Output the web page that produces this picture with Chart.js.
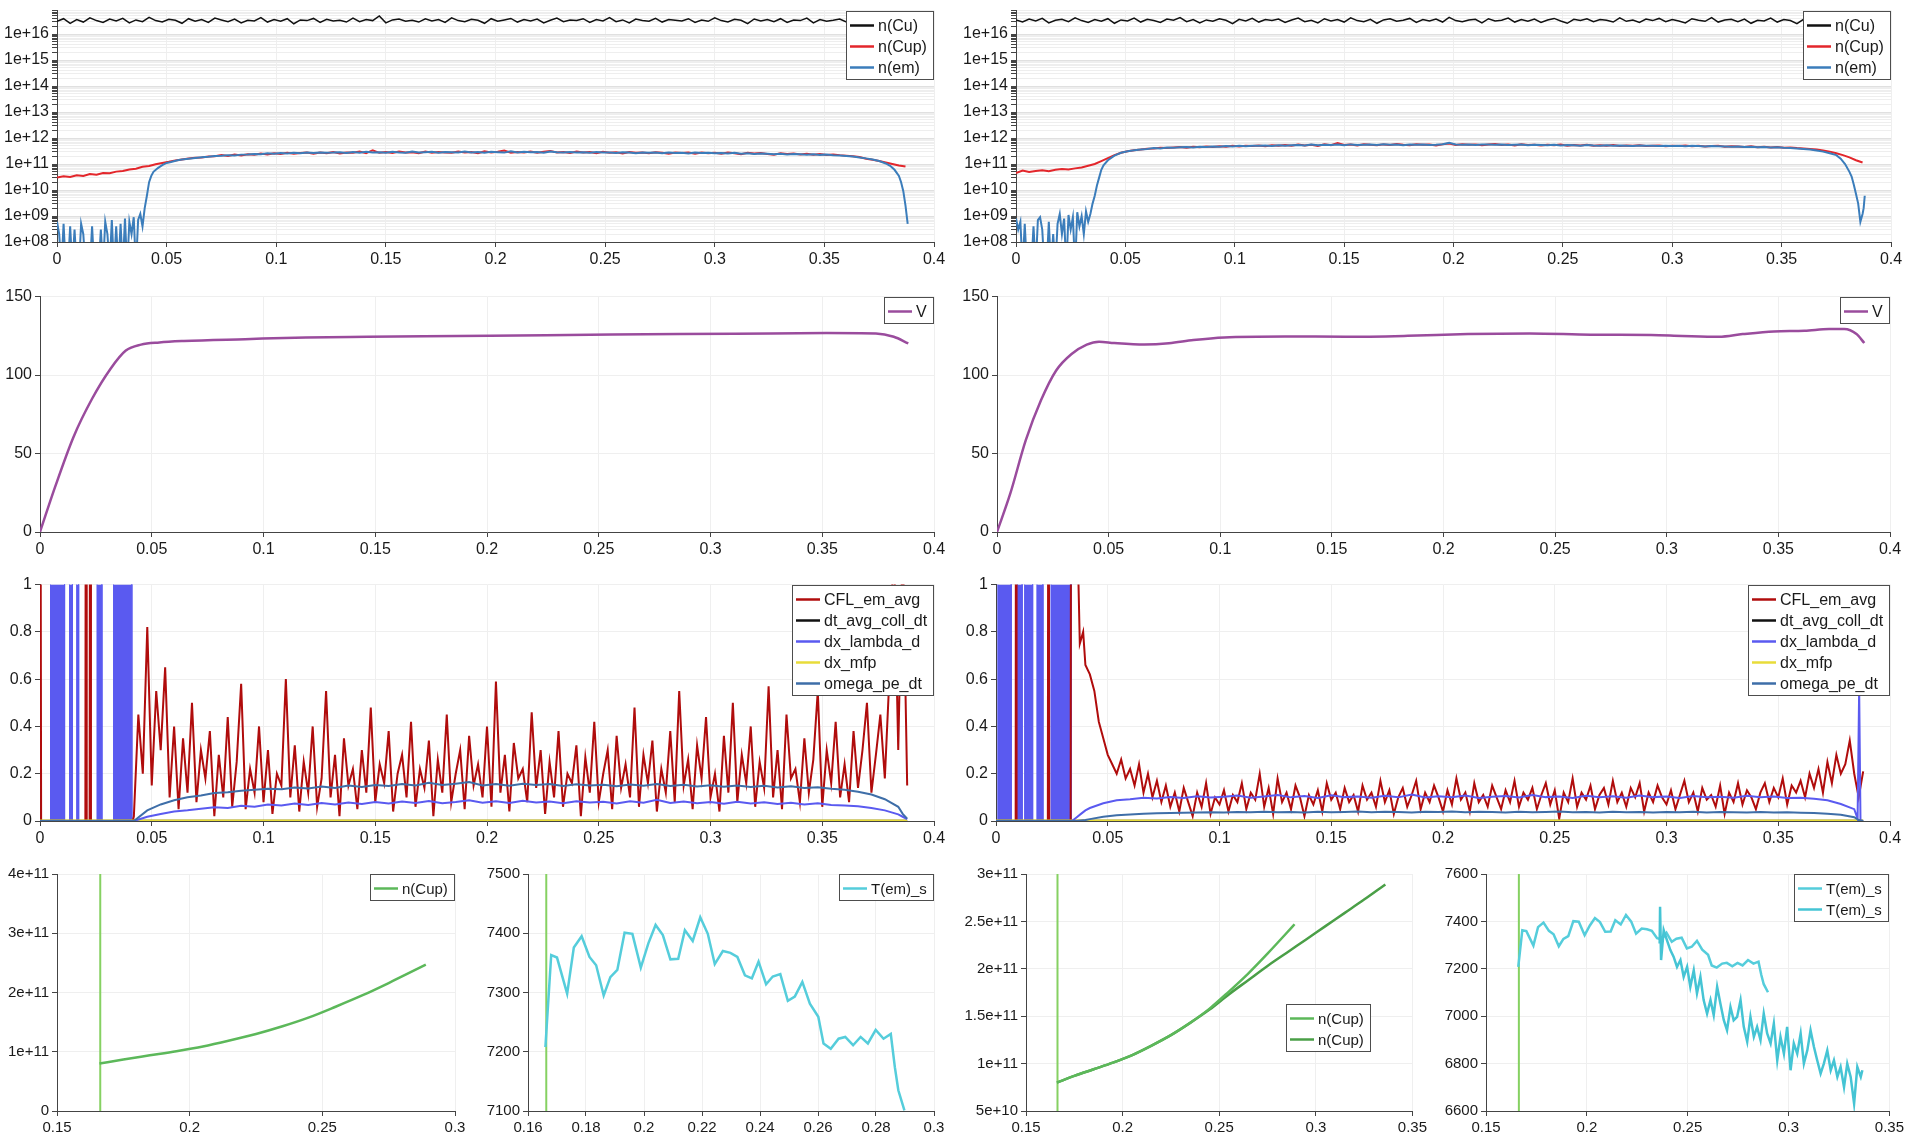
<!DOCTYPE html>
<html><head><meta charset="utf-8">
<script src="https://cdn.jsdelivr.net/npm/chart.js@4.4.1/dist/chart.umd.min.js"></script>
<style>
html,body{margin:0;padding:0;background:#fff;width:1907px;height:1136px;overflow:hidden;position:relative}
canvas{position:absolute}
</style></head><body>
<canvas id="cA"></canvas><canvas id="cB"></canvas>
<canvas id="cC"></canvas><canvas id="cD"></canvas>
<canvas id="cE"></canvas><canvas id="cF"></canvas>
<canvas id="cG"></canvas><canvas id="cH"></canvas><canvas id="cI"></canvas><canvas id="cJ"></canvas>
<script>
// ---------------- DATA ----------------
// shared position grid (row 1)
const xs = [
0,0.003,0.006,0.009,0.012,0.015,0.018,0.021,0.024,0.027,
0.03,0.033,0.036,0.039,0.042,0.045,0.048,0.051,0.054,0.057,
0.06,0.063,0.066,0.069,0.072,0.075,0.078,0.081,0.084,0.087,
0.09,0.093,0.096,0.099,0.102,0.105,0.108,0.111,0.114,0.117,
0.12,0.123,0.126,0.129,0.132,0.135,0.138,0.141,0.144,0.147,
0.15,0.153,0.156,0.159,0.162,0.165,0.168,0.171,0.174,0.177,
0.18,0.183,0.186,0.189,0.192,0.195,0.198,0.201,0.204,0.207,
0.21,0.213,0.216,0.219,0.222,0.225,0.228,0.231,0.234,0.237,
0.24,0.243,0.246,0.249,0.252,0.255,0.258,0.261,0.264,0.267,
0.27,0.273,0.276,0.279,0.282,0.285,0.288,0.291,0.294,0.297,
0.3,0.303,0.306,0.309,0.312,0.315,0.318,0.321,0.324,0.327,
0.33,0.333,0.336,0.339,0.342,0.345,0.348,0.351,0.354,0.357,
0.36,0.363,0.366,0.369,0.372,0.375,0.378,0.381,0.384,0.387];

const nCuLeft = [
3.1e16,3.9e16,2.6e16,3.6e16,2.9e16,4.2e16,3.3e16,2.8e16,3.8e16,3.2e16,
4.0e16,2.7e16,3.5e16,3.0e16,4.4e16,3.3e16,2.9e16,3.7e16,3.4e16,2.6e16,
3.9e16,3.1e16,3.6e16,2.8e16,4.1e16,3.5e16,3.0e16,3.8e16,2.7e16,3.4e16,
3.2e16,4.3e16,2.9e16,3.6e16,3.1e16,3.9e16,2.5e16,3.5e16,3.3e16,4.0e16,
2.8e16,3.7e16,3.2e16,3.4e16,2.9e16,4.1e16,3.0e16,3.6e16,3.3e16,5.0e16,
2.7e16,3.5e16,3.8e16,3.1e16,3.4e16,2.9e16,3.9e16,3.2e16,3.6e16,2.8e16,
4.2e16,3.3e16,3.0e16,3.7e16,3.4e16,2.6e16,3.9e16,3.1e16,3.5e16,4.0e16,
2.9e16,3.6e16,3.2e16,3.8e16,2.7e16,3.4e16,4.1e16,3.0e16,3.5e16,3.3e16,
3.9e16,2.8e16,3.6e16,3.2e16,4.3e16,3.0e16,3.5e16,2.7e16,3.8e16,3.3e16,
3.1e16,4.0e16,2.9e16,3.6e16,3.4e16,3.2e16,3.9e16,2.8e16,3.5e16,3.1e16,
4.2e16,3.3e16,2.9e16,3.7e16,3.4e16,2.5e16,3.8e16,3.2e16,3.6e16,3.0e16,
3.9e16,2.8e16,3.5e16,3.3e16,4.1e16,2.7e16,3.6e16,3.1e16,3.4e16,3.8e16,
2.9e16,3.5e16,3.2e16,4.0e16,2.8e16,3.6e16,3.3e16,3.0e16,3.7e16,3.2e16];

const nCupLeft = [
3.0e10,3.4e10,3.2e10,3.7e10,3.5e10,4.1e10,3.9e10,4.5e10,4.4e10,5.1e10,
5.4e10,6.2e10,6.6e10,7.8e10,8.4e10,9.8e10,1.1e11,1.22e11,1.38e11,1.5e11,
1.62e11,1.75e11,1.8e11,1.95e11,2.0e11,2.2e11,2.05e11,2.3e11,2.15e11,2.4e11,
2.3e11,2.55e11,2.35e11,2.6e11,2.45e11,2.7e11,2.5e11,2.65e11,2.8e11,2.5e11,
2.75e11,2.6e11,2.9e11,2.55e11,2.8e11,2.7e11,3.0e11,2.6e11,3.4e11,2.7e11,
2.9e11,2.65e11,3.0e11,2.75e11,2.85e11,2.6e11,3.05e11,2.7e11,2.9e11,2.8e11,
2.7e11,3.0e11,2.75e11,2.9e11,2.6e11,3.1e11,2.8e11,2.95e11,3.3e11,2.7e11,
2.9e11,2.75e11,3.05e11,2.7e11,2.95e11,3.2e11,2.8e11,2.9e11,2.65e11,3.0e11,
2.75e11,2.9e11,2.6e11,2.95e11,2.7e11,2.85e11,2.55e11,2.9e11,2.7e11,2.8e11,
2.6e11,2.85e11,2.7e11,2.5e11,2.8e11,2.65e11,2.75e11,2.5e11,2.8e11,2.6e11,
2.7e11,2.5e11,2.75e11,2.6e11,2.4e11,2.7e11,2.55e11,2.65e11,2.45e11,2.3e11,
2.6e11,2.45e11,2.55e11,2.35e11,2.5e11,2.3e11,2.45e11,2.25e11,2.35e11,2.2e11,
2.1e11,2.0e11,1.85e11,1.6e11,1.45e11,1.3e11,1.15e11,1.0e11,8.8e10,8.0e10];

const emLeftEarlyX = [0,0.001,0.002,0.003,0.004,0.005,0.006,0.007,0.008,0.009,
0.01,0.011,0.012,0.013,0.014,0.015,0.016,0.017,0.018,0.019,
0.02,0.021,0.022,0.023,0.024,0.025,0.026,0.027,0.028,0.029,
0.03,0.031,0.032,0.033,0.034,0.035,0.036,0.037,0.038,0.039,0.04,0.041];
const emLeftRiseX = [0.042,0.043,0.044,0.046,0.048,0.05,0.052,0.055];
const emLeftEndX = [0.375,0.378,0.38,0.382,0.384,0.385,0.386,0.387,0.388];
const nEmLeft = [
6e8,2e8,1e7,5e8,1e7,1e7,4e8,1e7,3e8,1e7,
1e7,5e8,2e8,1e7,1e7,1e7,4e8,1e7,1e7,1e7,
3e8,1e7,6e8,2e8,1e7,7e8,1e7,4e8,1e7,5e8,
1e7,8e8,1e7,6e8,2e8,9e8,1e7,7e8,1.2e9,4e8,
2e9,6e9,
2e10,3.5e10,5e10,7e10,9e10,1.1e11,1.2e11,1.4e11,
1.5e11,
1.6e11,1.7e11,1.82e11,1.9e11,2.05e11,2.1e11,2.2e11,2.15e11,2.3e11,2.35e11,
2.45e11,2.4e11,2.6e11,2.5e11,2.65e11,2.55e11,2.7e11,2.6e11,2.75e11,2.65e11,
2.8e11,2.7e11,2.75e11,2.85e11,2.65e11,2.9e11,2.7e11,2.95e11,2.75e11,2.85e11,
2.7e11,2.95e11,2.8e11,2.7e11,3.0e11,2.75e11,2.85e11,2.95e11,2.7e11,2.9e11,
2.85e11,2.75e11,3.0e11,2.8e11,2.9e11,2.7e11,2.95e11,2.85e11,2.75e11,3.1e11,
2.8e11,2.95e11,2.85e11,2.9e11,2.7e11,3.05e11,2.85e11,2.75e11,2.9e11,2.8e11,
2.85e11,2.7e11,2.9e11,2.75e11,2.8e11,2.65e11,2.85e11,2.75e11,2.6e11,2.8e11,
2.7e11,2.75e11,2.6e11,2.8e11,2.65e11,2.7e11,2.55e11,2.75e11,2.65e11,2.7e11,
2.6e11,2.65e11,2.55e11,2.7e11,2.5e11,2.6e11,2.45e11,2.55e11,2.5e11,2.4e11,
2.5e11,2.35e11,2.45e11,2.4e11,2.3e11,2.4e11,2.25e11,2.3e11,2.2e11,2.15e11,
2.05e11,1.95e11,1.8e11,1.65e11,1.5e11,
1.3e11,1.05e11,8.5e10,6e10,3.5e10,2e10,9e9,2.5e9,5e8];

const nCuRight = [
3.5e16,2.9e16,3.8e16,3.2e16,4.0e16,2.7e16,3.4e16,3.7e16,3.0e16,4.2e16,
3.3e16,2.8e16,3.6e16,3.1e16,3.9e16,2.6e16,3.5e16,3.2e16,4.1e16,2.9e16,
3.7e16,3.3e16,2.8e16,3.8e16,3.4e16,4.3e16,3.0e16,3.6e16,2.7e16,3.5e16,
3.1e16,3.9e16,3.4e16,2.5e16,3.7e16,3.2e16,4.0e16,2.9e16,3.6e16,3.3e16,
3.8e16,2.8e16,3.5e16,4.1e16,3.0e16,3.4e16,2.7e16,3.9e16,3.2e16,3.6e16,
2.9e16,4.2e16,3.3e16,3.0e16,3.7e16,2.6e16,3.5e16,3.9e16,3.1e16,3.4e16,
4.0e16,2.8e16,3.6e16,3.2e16,3.8e16,2.9e16,4.4e16,3.3e16,3.0e16,3.5e16,
3.7e16,2.7e16,3.9e16,3.2e16,3.4e16,4.1e16,2.9e16,3.6e16,3.1e16,3.8e16,
2.8e16,3.5e16,4.0e16,3.2e16,2.6e16,3.7e16,3.3e16,3.9e16,3.0e16,3.6e16,
3.4e16,2.9e16,4.2e16,3.1e16,3.5e16,2.8e16,3.8e16,3.3e16,4.0e16,3.0e16,
3.6e16,3.2e16,2.7e16,3.9e16,3.4e16,3.1e16,4.3e16,2.9e16,3.5e16,3.7e16,
3.0e16,3.8e16,2.6e16,3.4e16,3.2e16,4.1e16,2.9e16,3.6e16,3.3e16,2.5e16,
3.7e16,3.1e16,3.9e16,2.8e16,3.5e16,3.3e16,4.0e16,2.9e16,3.4e16,3.6e16];

const nCupRight = [
4.5e10,5.6e10,4.9e10,5.4e10,5.8e10,5.3e10,6.0e10,6.4e10,6.1e10,6.8e10,
7.4e10,8.6e10,1.0e11,1.3e11,1.7e11,2.2e11,2.7e11,3.1e11,3.4e11,3.6e11,
3.9e11,4.0e11,4.2e11,4.1e11,4.3e11,4.5e11,4.2e11,4.6e11,4.4e11,4.7e11,
4.5e11,4.8e11,4.6e11,5.0e11,4.7e11,5.1e11,4.9e11,5.2e11,4.8e11,5.3e11,
5.0e11,5.4e11,5.1e11,5.6e11,5.2e11,5.5e11,5.0e11,5.7e11,5.3e11,6.4e11,
5.4e11,5.6e11,5.2e11,5.8e11,5.5e11,5.3e11,5.7e11,5.4e11,5.9e11,5.5e11,
5.3e11,5.8e11,5.5e11,5.6e11,5.2e11,5.7e11,6.2e11,5.4e11,5.8e11,5.5e11,
5.7e11,5.3e11,5.6e11,5.9e11,5.4e11,5.6e11,5.2e11,5.7e11,5.4e11,5.5e11,
5.2e11,5.5e11,5.3e11,5.6e11,5.1e11,5.4e11,5.2e11,5.5e11,5.0e11,5.3e11,
5.1e11,5.4e11,4.9e11,5.2e11,5.0e11,5.3e11,4.9e11,5.1e11,5.2e11,4.8e11,
5.1e11,4.9e11,5.2e11,4.8e11,5.0e11,4.7e11,4.9e11,5.1e11,4.6e11,4.8e11,
4.7e11,4.5e11,4.8e11,4.4e11,4.6e11,4.3e11,4.5e11,4.2e11,4.3e11,4.1e11,
4.0e11,3.8e11,3.6e11,3.3e11,3.0e11,2.6e11,2.2e11,1.8e11,1.4e11,1.15e11];

const emRightEarlyX = [0,0.001,0.002,0.003,0.004,0.005,0.006,0.007,0.008,0.009,
0.01,0.011,0.012,0.013,0.014,0.015,0.016,0.017,0.018,0.019,
0.02,0.021,0.022,0.023,0.024,0.025,0.026,0.027,0.028,0.029,
0.03,0.031,0.032,0.033];
const emRightRiseX = [0.034,0.035,0.036,0.037,0.038,0.039,0.04,0.042,0.045,0.048,0.051,0.054];
const emRightEndX = [0.377,0.379,0.381,0.382,0.383,0.384,0.385,0.386,0.387,0.3875,0.388];
const nEmRight = [
8e8,3e8,6e8,1e7,5e8,1e7,1e7,1e7,4e8,1e7,
7e8,9e8,3e8,1e7,1e7,6e8,1e7,2e8,1e7,5e8,
1.2e9,2e8,8e8,1e7,1.1e9,3e8,9e8,1e7,1.4e9,4e8,
1.0e9,2e8,1.5e9,6e8,
1.2e9,3e9,6e9,1.5e10,3e10,6e10,9e10,1.4e11,2.1e11,2.7e11,3.1e11,3.4e11,
3.6e11,
3.8e11,4.1e11,4.0e11,4.3e11,4.2e11,4.4e11,4.5e11,4.3e11,4.6e11,4.5e11,
4.7e11,4.6e11,4.9e11,4.7e11,5.0e11,4.8e11,5.1e11,5.0e11,5.2e11,4.9e11,
5.3e11,5.1e11,5.3e11,5.4e11,5.2e11,5.6e11,5.3e11,5.5e11,5.4e11,5.6e11,
5.3e11,5.7e11,5.4e11,5.5e11,5.6e11,5.4e11,5.8e11,5.5e11,5.6e11,5.3e11,
5.6e11,5.5e11,5.7e11,5.4e11,5.5e11,5.8e11,6.5e11,5.6e11,5.5e11,5.7e11,
5.4e11,5.6e11,5.7e11,5.5e11,5.6e11,5.4e11,5.5e11,5.6e11,5.3e11,5.5e11,
5.4e11,5.3e11,5.5e11,5.2e11,5.4e11,5.3e11,5.1e11,5.4e11,5.2e11,5.1e11,
5.3e11,5.0e11,5.2e11,5.1e11,4.9e11,5.2e11,5.0e11,5.1e11,4.9e11,5.0e11,
4.9e11,5.1e11,4.8e11,5.0e11,4.9e11,4.7e11,4.9e11,4.8e11,4.7e11,4.6e11,
4.7e11,4.5e11,4.6e11,4.4e11,4.5e11,4.3e11,4.4e11,4.2e11,4.1e11,4.0e11,
3.8e11,3.6e11,3.3e11,3.0e11,2.6e11,2.2e11,
1.6e11,1.0e11,5e10,3.3e10,1.6e10,7e9,3e9,6e8,1.2e9,2e9,6e9];

// row 2: V
const vLeftX = [0,0.0068,0.015,0.0233,0.0315,0.0384,0.0452,0.0534,0.0644,0.0918,0.119,0.1466,0.2014,0.256,0.311,0.352,0.374,0.382,0.3885];
const vLeft  = [0,28.9,60.6,84.9,103.9,115.6,119.4,120.8,121.7,122.9,124,124.4,125,125.9,126.3,126.8,126.5,124.4,120.2];
const vRightX = [0,0.006,0.0129,0.0197,0.0265,0.0334,0.0402,0.0457,0.0525,0.066,0.077,0.088,0.1018,0.129,0.156,0.184,0.211,0.2386,0.266,0.293,0.307,0.3234,0.334,0.348,0.3617,0.3727,0.3795,0.385,0.3885];
const vRight  = [0,24.7,58.5,83.9,102.9,113.4,119.4,121.3,120.4,119.4,120.2,122.3,124,124.6,124.4,125,126.1,126.5,125.7,125.5,124.9,124.4,126.1,127.8,128.2,129.3,129.3,126.1,120.4];

// row 3 grids
const xsF = [
0.042,0.044,0.046,0.048,0.05,0.052,0.054,0.056,0.058,0.06,
0.062,0.064,0.066,0.068,0.07,0.072,0.074,0.076,0.078,0.08,
0.082,0.084,0.086,0.088,0.09,0.092,0.094,0.096,0.098,0.1,
0.102,0.104,0.106,0.108,0.11,0.112,0.114,0.116,0.118,0.12,
0.122,0.124,0.126,0.128,0.13,0.132,0.134,0.136,0.138,0.14,
0.142,0.144,0.146,0.148,0.15,0.152,0.154,0.156,0.158,0.16,
0.162,0.164,0.166,0.168,0.17,0.172,0.174,0.176,0.178,0.18,
0.182,0.184,0.186,0.188,0.19,0.192,0.194,0.196,0.198,0.2,
0.202,0.204,0.206,0.208,0.21,0.212,0.214,0.216,0.218,0.22,
0.222,0.224,0.226,0.228,0.23,0.232,0.234,0.236,0.238,0.24,
0.242,0.244,0.246,0.248,0.25,0.252,0.254,0.256,0.258,0.26,
0.262,0.264,0.266,0.268,0.27,0.272,0.274,0.276,0.278,0.28,
0.282,0.284,0.286,0.288,0.29,0.292,0.294,0.296,0.298,0.3,
0.302,0.304,0.306,0.308,0.31,0.312,0.314,0.316,0.318,0.32,
0.322,0.324,0.326,0.328,0.33,0.332,0.334,0.336,0.338,0.34,
0.342,0.344,0.346,0.348,0.35,0.352,0.354,0.356,0.358,0.36,
0.362,0.364,0.366,0.368,0.37,0.372,0.374,0.376,0.378,0.38,
0.382,0.384,0.386,0.388];
const xsM = [
0.042,0.048,0.054,0.06,0.066,0.072,0.078,0.084,0.09,0.096,
0.102,0.108,0.114,0.12,0.126,0.132,0.138,0.144,0.15,0.156,
0.162,0.168,0.174,0.18,0.186,0.192,0.198,0.204,0.21,0.216,
0.222,0.228,0.234,0.24,0.246,0.252,0.258,0.264,0.27,0.276,
0.282,0.288,0.294,0.3,0.306,0.312,0.318,0.324,0.33,0.336,
0.342,0.348,0.354,0.36,0.366,0.372,0.378,0.384];

const cflLeftPreX = [0,0.0005,0.0203,0.0206,0.0209,0.0222,0.0225,0.0228,0.0415];
const cflLeftPre  = [3,0,0,3,0,0,3,0,0];
const cflLeft = [
0.02,0.45,0.2,0.82,0.15,0.55,0.3,0.65,0.1,0.4,
0.05,0.35,0.12,0.5,0.08,0.3,0.18,0.38,0.02,0.28,
0.1,0.44,0.06,0.25,0.58,0.05,0.22,0.12,0.4,0.08,
0.3,0.03,0.2,0.15,0.6,0.1,0.32,0.04,0.25,0.12,
0.4,0.06,0.18,0.55,0.1,0.28,0.02,0.35,0.15,0.22,
0.05,0.3,0.12,0.48,0.08,0.24,0.16,0.38,0.04,0.2,
0.28,0.1,0.42,0.06,0.22,0.14,0.34,0.02,0.26,0.12,
0.45,0.08,0.2,0.3,0.05,0.36,0.15,0.24,0.1,0.4,
0.06,0.59,0.12,0.28,0.04,0.33,0.18,0.22,0.08,0.46,
0.14,0.3,0.03,0.25,0.1,0.38,0.06,0.2,0.16,0.32,
0.02,0.27,0.12,0.42,0.08,0.2,0.3,0.05,0.36,0.14,
0.24,0.1,0.48,0.06,0.28,0.16,0.34,0.04,0.22,0.12,
0.38,0.08,0.55,0.15,0.26,0.05,0.32,0.18,0.44,0.1,
0.2,0.04,0.36,0.12,0.5,0.08,0.28,0.16,0.4,0.06,
0.25,0.14,0.57,0.1,0.3,0.05,0.45,0.18,0.22,0.08,
0.35,0.12,0.26,0.55,0.06,0.3,0.16,0.42,0.1,0.24,
0.08,0.38,0.14,0.3,0.5,0.12,0.28,0.45,0.18,0.6,
1.2,0.3,1.2,0.15];
const dxlLeftPreX = [0,0.04], dxlLeftPre = [0,0];
const dxlLeftPostX = [0.386,0.388], dxlLeftPost = [0.018,0.008];
const dxlLeft = [
0.0,0.018,0.03,0.04,0.045,0.052,0.058,0.055,0.064,0.06,
0.07,0.066,0.074,0.068,0.076,0.07,0.078,0.072,0.08,0.074,
0.082,0.076,0.085,0.075,0.08,0.088,0.077,0.083,0.076,0.086,
0.078,0.082,0.075,0.084,0.078,0.081,0.074,0.083,0.077,0.09,
0.076,0.082,0.075,0.08,0.073,0.081,0.074,0.079,0.072,0.077,
0.07,0.075,0.068,0.066,0.062,0.055,0.045,0.028];
const omegaLeftPreX = [0,0.04], omegaLeftPre = [0,0];
const omegaLeftPostX = [0.386,0.388], omegaLeftPost = [0.03,0.01];
const omegaLeft = [
0.0,0.045,0.07,0.088,0.1,0.108,0.118,0.122,0.128,0.132,
0.136,0.134,0.142,0.138,0.146,0.14,0.15,0.144,0.152,0.148,
0.156,0.15,0.162,0.152,0.158,0.165,0.15,0.156,0.149,0.158,
0.152,0.156,0.148,0.155,0.15,0.153,0.147,0.154,0.149,0.156,
0.148,0.153,0.146,0.151,0.145,0.15,0.144,0.149,0.142,0.147,
0.14,0.143,0.136,0.132,0.124,0.112,0.092,0.06];
const flatX = [0,0.388];
const dtCollLeft = [0.001,0.001], mfpLeft = [0.002,0.002];
const blueBlocksLeft = [[0.0047,0.011],[0.0132,0.0145],[0.0164,0.0173],[0.0255,0.0277],[0.0329,0.0411]];

const cflRightPreX = [0,0.0088,0.009,0.0092,0.0232,0.0235,0.0238,0.0334,0.0337,0.0355,0.0368,0.0375,0.039,0.04];
const cflRightPre  = [0,0,3,0,0,3,0,0,3,1.6,1.05,0.75,0.8,0.66];
const cflRight = [
0.62,0.55,0.42,0.35,0.28,0.24,0.2,0.26,0.18,0.22,
0.15,0.24,0.12,0.2,0.1,0.17,0.08,0.15,0.06,0.12,
0.04,0.14,0.08,0.02,0.12,0.06,0.16,0.03,0.1,0.07,
0.13,0.04,0.11,0.08,0.16,0.05,0.12,0.09,0.2,0.06,
0.14,0.03,0.18,0.08,0.12,0.05,0.15,0.1,0.02,0.11,
0.07,0.13,0.04,0.16,0.09,0.12,0.05,0.14,0.08,0.11,
0.04,0.15,0.09,0.12,0.06,0.17,0.08,0.13,0.03,0.1,
0.14,0.06,0.11,0.17,0.05,0.12,0.08,0.15,0.1,0.04,
0.13,0.07,0.18,0.09,0.12,0.04,0.16,0.08,0.11,0.06,
0.15,0.1,0.05,0.13,0.08,0.17,0.06,0.12,0.09,0.14,
0.05,0.11,0.16,0.07,0.13,0.01,0.12,0.08,0.18,0.06,
0.12,0.09,0.15,0.05,0.11,0.14,0.07,0.17,0.08,0.12,
0.06,0.14,0.1,0.16,0.04,0.12,0.08,0.15,0.1,0.07,
0.13,0.05,0.11,0.17,0.08,0.12,0.04,0.14,0.09,0.11,
0.06,0.15,0.03,0.12,0.08,0.16,0.07,0.13,0.1,0.05,
0.12,0.16,0.08,0.14,0.1,0.18,0.07,0.15,0.12,0.17,
0.1,0.2,0.14,0.22,0.12,0.25,0.16,0.28,0.2,0.24,
0.34,0.2,0.1,0.21];
const dxlRightPreX = [0,0.034,0.036,0.038,0.04], dxlRightPre = [0,0,0.015,0.03,0.045];
const dxlRightPostX = [0.3855,0.3862,0.3868,0.388], dxlRightPost = [0.01,0.56,0,0];
const dxlRight = [
0.055,0.075,0.088,0.092,0.098,0.095,0.102,0.097,0.105,0.099,
0.103,0.108,0.098,0.104,0.11,0.1,0.106,0.097,0.109,0.101,
0.104,0.098,0.107,0.1,0.112,0.099,0.105,0.1,0.108,0.097,
0.103,0.106,0.099,0.11,0.101,0.104,0.097,0.107,0.1,0.105,
0.098,0.108,0.101,0.104,0.097,0.106,0.1,0.103,0.098,0.107,
0.1,0.104,0.097,0.098,0.094,0.088,0.072,0.05];
const omegaRightPreX = [0,0.036,0.04], omegaRightPre = [0,0,0.004];
const omegaRightPostX = [0.386,0.388], omegaRightPost = [0.004,0];
const omegaRight = [
0.008,0.018,0.024,0.028,0.031,0.033,0.034,0.035,0.036,0.037,
0.036,0.038,0.037,0.039,0.037,0.038,0.036,0.039,0.037,0.038,
0.04,0.037,0.039,0.038,0.036,0.039,0.038,0.04,0.037,0.039,
0.038,0.036,0.039,0.037,0.038,0.04,0.037,0.038,0.036,0.039,
0.037,0.038,0.036,0.038,0.037,0.039,0.036,0.038,0.037,0.036,
0.038,0.036,0.037,0.035,0.034,0.031,0.026,0.016];
const dtCollRight = [0.001,0.001], mfpRight = [0.002,0.002];
const blueBlocksRight = [[0.0008,0.0068],[0.0096,0.0117],[0.0128,0.0164],[0.0183,0.021],[0.0246,0.0336]];

// row 4
const markX = [0.1663,0.1663];
const markG = [0,4e11], markH = [7100,7500], markI = [5e10,3e11], markJ = [6600,7600];
const cupShortX = [0.166,0.175,0.185,0.195,0.205,0.215,0.225,0.235,0.245,0.255,0.265,0.275,0.285,0.289];
const cupShort  = [8.0e10,8.7e10,9.4e10,1.01e11,1.09e11,1.19e11,1.30e11,1.43e11,1.58e11,1.76e11,1.95e11,2.16e11,2.38e11,2.47e11];
const cupLongX = [0.166,0.175,0.185,0.195,0.205,0.215,0.225,0.235,0.245,0.255,0.265,0.275,0.285,0.295,0.305,0.315,0.325,0.336];
const cupLong  = [8.0e10,8.7e10,9.4e10,1.01e11,1.09e11,1.19e11,1.30e11,1.43e11,1.57e11,1.73e11,1.88e11,2.03e11,2.17e11,2.31e11,2.45e11,2.59e11,2.73e11,2.89e11];
const tEmX = [0.166,0.168,0.17,0.1735,0.1758,0.1785,0.1812,0.1835,0.1861,0.1884,
0.1908,0.1933,0.196,0.1989,0.2015,0.204,0.2065,0.2091,0.2118,0.2141,
0.2168,0.2194,0.222,0.2244,0.2272,0.2298,0.2322,0.2348,0.2372,0.2395,
0.2421,0.2444,0.247,0.2496,0.252,0.2546,0.2572,0.2601,0.2619,0.2644,
0.2671,0.2694,0.2721,0.2747,0.2772,0.2799,0.2826,0.2851,0.2865,0.2877,0.2898];
const tEm = [7208,7363,7359,7298,7376,7395,7360,7346,7295,7326,
7338,7401,7399,7342,7383,7414,7397,7356,7357,7405,
7387,7427,7399,7348,7370,7367,7360,7329,7324,7352,
7314,7327,7331,7286,7293,7318,7281,7259,7214,7205,
7222,7225,7211,7225,7214,7237,7222,7230,7174,7135,7101];
const tEm2X = [0.2361,0.2363,0.2368,0.2381,0.2397,0.2414,0.243,0.2447,0.2464,0.248,
0.2497,0.2513,0.253,0.2546,0.2563,0.2579,0.2596,0.2613,0.2629,0.2646,
0.2662,0.2679,0.2695,0.2712,0.2728,0.2745,0.2762,0.2778,0.2795,0.2811,
0.2828,0.2844,0.2861,0.2877,0.2894,0.2911,0.2927,0.2944,0.296,0.2977,
0.2993,0.301,0.3026,0.3043,0.306,0.3076,0.3093,0.3109,0.3126,0.3142,
0.3159,0.3175,0.3192,0.3209,0.3225,0.3242,0.3258,0.3275,0.3291,0.3308,
0.3325,0.3341,0.3358,0.3366];
const tEm2 = [7307,7462,7237,7363,7321,7279,7251,7208,7237,7166,
7208,7124,7194,7096,7166,7068,7011,7068,7004,7124,
7054,6983,6941,7039,6983,6997,7068,6955,6892,6997,
6913,6955,6899,7011,6927,6885,6969,6814,6913,6842,
6955,6772,6885,6842,6927,6800,6856,6941,6870,6814,
6758,6800,6856,6772,6814,6744,6786,6701,6800,6744,
6631,6786,6744,6772];

// ---------------- RENDERING ----------------
const FONT = '"Liberation Sans", Arial, sans-serif';
Chart.defaults.font.family = FONT;
const C = {cu:'#111111', cup:'#e3262b', em:'#3b7dbb', v:'#9a4c9d', cfl:'#b00c0c', dt:'#111111',
  dxl:'#5a5af0', mfp:'#e8dc3a', omega:'#3e6ea8', g1:'#5cb85a', g2:'#4a9f47', mark:'#86d162', c1:'#55cddb', c2:'#45c4d4'};

function pts(xa, ya){ const n=Math.min(xa.length, ya.length); if (xa.length!==ya.length) console.log('length mismatch', xa.length, ya.length); const r=[]; for(let i=0;i<n;i++) r.push({x:xa[i], y:ya[i]}); return r; }
function blocks(bl){ const r=[]; bl.forEach(([a,b])=>{ r.push({x:a,y:0},{x:a,y:5},{x:b,y:5},{x:b,y:0}); }); return r; }
function fmtNum(v){ return String(parseFloat(Number(v).toFixed(6))); }
function fmtExp(v){ if (Math.abs(v) < 1) return '0'; return Number(Number(v).toPrecision(6)).toExponential(); }

const boxLegend = {
  id:'boxLegend',
  afterDraw(chart, args, o){
    if (!o || !o.show) return;
    const items = chart.data.datasets.filter(d => d.label);
    const ctx = chart.ctx, a = chart.chartArea;
    ctx.save();
    ctx.font = o.size + 'px ' + FONT;
    const sample = 24, gap = 4, padL = 4, padR = 7, padY = 3, rowH = 21;
    const tw = Math.max(...items.map(d => ctx.measureText(d.label).width));
    const w = Math.round(padL + sample + gap + tw + padR);
    const h = padY*2 + rowH*items.length;
    const x = Math.round(a.right - w + (o.dx||0)), y = Math.round(a.top + (o.dy||0));
    ctx.fillStyle = '#fff'; ctx.fillRect(x, y, w, h);
    ctx.strokeStyle = '#4d4d4d'; ctx.lineWidth = 1; ctx.strokeRect(x+0.5, y+0.5, w-1, h-1);
    items.forEach((d,i) => {
      const cy = Math.round(y + padY + rowH*i + rowH/2) + 0.5;
      ctx.strokeStyle = d.borderColor; ctx.lineWidth = 2.5;
      ctx.beginPath(); ctx.moveTo(x+padL, cy); ctx.lineTo(x+padL+sample, cy); ctx.stroke();
      ctx.fillStyle = '#1a1a1a'; ctx.textBaseline = 'middle'; ctx.textAlign = 'left';
      ctx.fillText(d.label, x+padL+sample+gap, cy+1);
    });
    ctx.restore();
  }
};

function panel(id, area, o){
  const yW = o.yW, xH = 30, pt = 12, pr = 17;
  const cv = document.getElementById(id);
  const W = yW + (area.r - area.l) + pr, H = pt + (area.b - area.t) + xH;
  cv.width = W; cv.height = H;
  cv.style.left = (area.l - yW) + 'px'; cv.style.top = (area.t - pt) + 'px';
  cv.style.width = W + 'px'; cv.style.height = H + 'px';
  const fs = o.fs || 16;
  const datasets = o.datasets.map(d => Object.assign({pointRadius:0, pointHoverRadius:0, borderWidth:2, fill:false, tension:0, spanGaps:true, label:''}, d));
  const tickFont = {family:FONT, size:fs};
  const y = Object.assign({
    afterFit: s => { s.width = yW; },
    ticks:{font:tickFont, color:'#1a1a1a', padding:3, autoSkip:false},
    grid:{color:o.gridY || '#efefef', tickColor:'#444', tickLength:5},
    border:{color:'#444'}
  }, o.y);
  y.ticks = Object.assign({font:tickFont, color:'#1a1a1a', padding:3, autoSkip:false, callback:v=>fmtNum(v)}, o.y.ticks || {});
  y.grid = Object.assign({color:'#efefef', tickColor:'#444', tickLength:5}, o.y.grid || {});
  new Chart(cv, {
    type:'line',
    data:{datasets},
    options:{
      responsive:false, animation:false, devicePixelRatio:1, events:[],
      layout:{padding:{top:pt, right:pr, left:0, bottom:0}},
      plugins:{legend:{display:false}, tooltip:{enabled:false}, boxLegend:Object.assign({show:true, size:fs}, o.legend||{})},
      scales:{
        x:{type:'linear', min:o.x.min, max:o.x.max,
           afterFit: s => { s.height = xH; },
           ticks:{stepSize:o.x.step, autoSkip:false, maxRotation:0, font:tickFont, color:'#1a1a1a', padding:3, callback:v=>fmtNum(v)},
           grid:{color:'#efefef', tickColor:'#444', tickLength:5},
           border:{color:'#444'}},
        y
      }
    },
    plugins:[boxLegend]
  });
}

function logAxis(){
  return {
    type:'logarithmic', min:1e8, max:8e16,
    afterBuildTicks: s => {
      const t = [];
      for (let e = 8; e <= 16; e++) for (let m = 1; m <= 9; m++) { const v = m*Math.pow(10,e); if (v <= 8e16) t.push({value:v, major:m===1}); }
      s.ticks = t;
    },
    ticks:{callback:(v)=>{ const e = Math.round(Math.log10(v)); return Math.abs(v/Math.pow(10,e) - 1) < 1e-9 ? '1e+' + String(e).padStart(2,'0') : ''; }},
    grid:{color: c => (c.tick && c.tick.major) ? '#e0e0e0' : '#eeeeee'}
  };
}

// Row 1
panel('cA', {l:57, r:934, t:10, b:242}, {yW:57, x:{min:0,max:0.4,step:0.05}, y:logAxis(),
  datasets:[
    {label:'n(Cu)', data:pts(xs, nCuLeft), borderColor:C.cu, borderWidth:1.5, order:3},
    {label:'n(Cup)', data:pts(xs, nCupLeft), borderColor:C.cup, order:2},
    {label:'n(em)', data:pts([...emLeftEarlyX, ...emLeftRiseX, ...xs.slice(19,125), ...emLeftEndX], nEmLeft), borderColor:C.em, order:1}
  ]});
panel('cB', {l:1016, r:1891, t:10, b:242}, {yW:60, x:{min:0,max:0.4,step:0.05}, y:logAxis(),
  datasets:[
    {label:'n(Cu)', data:pts(xs, nCuRight), borderColor:C.cu, borderWidth:1.5, order:3},
    {label:'n(Cup)', data:pts(xs, nCupRight), borderColor:C.cup, order:2},
    {label:'n(em)', data:pts([...emRightEarlyX, ...emRightRiseX, ...xs.slice(19,126), ...emRightEndX], nEmRight), borderColor:C.em, order:1}
  ]});

// Row 2
panel('cC', {l:40, r:934, t:296, b:532}, {yW:40, x:{min:0,max:0.4,step:0.05}, y:{min:0,max:150,ticks:{stepSize:50}},
  datasets:[{label:'V', data:pts(vLeftX, vLeft), borderColor:C.v, borderWidth:2.5, cubicInterpolationMode:'monotone'}]});
panel('cD', {l:997, r:1890, t:296, b:532}, {yW:50, x:{min:0,max:0.4,step:0.05}, y:{min:0,max:150,ticks:{stepSize:50}},
  datasets:[{label:'V', data:pts(vRightX, vRight), borderColor:C.v, borderWidth:2.5, cubicInterpolationMode:'monotone'}]});

// Row 3
const yCfl = {min:0, max:1, ticks:{stepSize:0.2}};
panel('cE', {l:40, r:934, t:584, b:821}, {yW:40, x:{min:0,max:0.4,step:0.05}, y:yCfl,
  datasets:[
    {label:'CFL_em_avg', data:pts([...cflLeftPreX, ...xsF], [...cflLeftPre, ...cflLeft]), borderColor:C.cfl, order:5},
    {label:'dt_avg_coll_dt', data:pts(flatX, dtCollLeft), borderColor:C.dt, order:4},
    {label:'dx_lambda_d', data:pts([...dxlLeftPreX, ...xsM, ...dxlLeftPostX], [...dxlLeftPre, ...dxlLeft, ...dxlLeftPost]), borderColor:C.dxl, order:2},
    {label:'dx_mfp', data:pts(flatX, mfpLeft), borderColor:C.mfp, order:3},
    {label:'omega_pe_dt', data:pts([...omegaLeftPreX, ...xsM, ...omegaLeftPostX], [...omegaLeftPre, ...omegaLeft, ...omegaLeftPost]), borderColor:C.omega, order:1},
    {data:blocks(blueBlocksLeft), borderColor:C.dxl, backgroundColor:C.dxl, fill:'origin', borderWidth:1, order:6}
  ]});
panel('cF', {l:996, r:1890, t:584, b:821}, {yW:50, x:{min:0,max:0.4,step:0.05}, y:yCfl,
  datasets:[
    {label:'CFL_em_avg', data:pts([...cflRightPreX, ...xsF], [...cflRightPre, ...cflRight]), borderColor:C.cfl, order:5},
    {label:'dt_avg_coll_dt', data:pts(flatX, dtCollRight), borderColor:C.dt, order:4},
    {label:'dx_lambda_d', data:pts([...dxlRightPreX, ...xsM, ...dxlRightPostX], [...dxlRightPre, ...dxlRight, ...dxlRightPost]), borderColor:C.dxl, order:2},
    {label:'dx_mfp', data:pts(flatX, mfpRight), borderColor:C.mfp, order:3},
    {label:'omega_pe_dt', data:pts([...omegaRightPreX, ...xsM, ...omegaRightPostX], [...omegaRightPre, ...omegaRight, ...omegaRightPost]), borderColor:C.omega, order:1},
    {data:blocks(blueBlocksRight), borderColor:C.dxl, backgroundColor:C.dxl, fill:'origin', borderWidth:1, order:6}
  ]});

// Row 4
panel('cG', {l:57, r:455, t:874, b:1111}, {yW:57, fs:15, x:{min:0.15,max:0.3,step:0.05}, y:{min:0,max:4e11,ticks:{stepSize:1e11, callback:v=>fmtExp(v)}},
  datasets:[
    {label:'n(Cup)', data:pts(cupShortX, cupShort), borderColor:C.g1, borderWidth:2.5, cubicInterpolationMode:'monotone', order:1},
    {data:pts(markX, markG), borderColor:C.mark, borderWidth:2, order:5}
  ]});
panel('cH', {l:528, r:934, t:874, b:1111}, {yW:60, fs:15, x:{min:0.16,max:0.3,step:0.02}, y:{min:7100,max:7500,ticks:{stepSize:100}},
  datasets:[
    {label:'T(em)_s', data:pts(tEmX, tEm), borderColor:C.c1, borderWidth:2.5, order:1},
    {data:pts(markX, markH), borderColor:C.mark, borderWidth:2, order:5}
  ]});
panel('cI', {l:1026, r:1413, t:874, b:1111}, {yW:75, fs:15, x:{min:0.15,max:0.35,step:0.05}, y:{min:5e10,max:3e11,ticks:{stepSize:5e10, callback:v=>fmtExp(v)}},
  legend:{dx:-41, dy:130},
  datasets:[
    {label:'n(Cup)', data:pts(cupShortX, cupShort), borderColor:C.g1, borderWidth:2.5, cubicInterpolationMode:'monotone', order:1},
    {label:'n(Cup)', data:pts(cupLongX, cupLong), borderColor:C.g2, borderWidth:2.5, cubicInterpolationMode:'monotone', order:2},
    {data:pts(markX, markI), borderColor:C.mark, borderWidth:2, order:5}
  ]});
panel('cJ', {l:1486, r:1890, t:874, b:1111}, {yW:60, fs:15, x:{min:0.15,max:0.35,step:0.05}, y:{min:6600,max:7600,ticks:{stepSize:200}},
  datasets:[
    {label:'T(em)_s', data:pts(tEmX, tEm), borderColor:C.c1, borderWidth:2.5, order:2},
    {label:'T(em)_s', data:pts(tEm2X, tEm2), borderColor:C.c2, borderWidth:2.5, order:1},
    {data:pts(markX, markJ), borderColor:C.mark, borderWidth:2, order:5}
  ]});
</script>
</body></html>
